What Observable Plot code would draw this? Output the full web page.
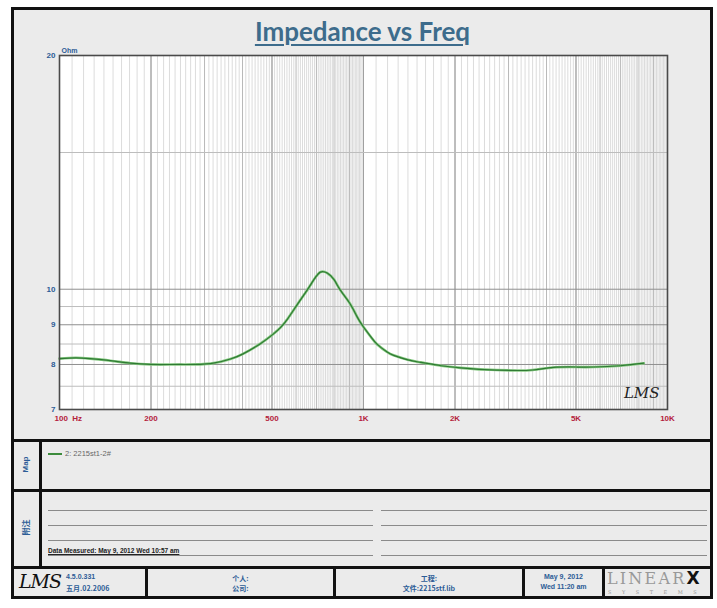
<!DOCTYPE html>
<html>
<head>
<meta charset="utf-8">
<script src="https://cdn.jsdelivr.net/npm/d3@7"></script>
<script src="https://cdn.jsdelivr.net/npm/@observablehq/plot@0.6"></script>
<style>
  html, body { margin: 0; padding: 0; background: #fff; }
  #page { position: relative; width: 717px; height: 608px; overflow: hidden; font-family: "Liberation Sans", Arial, sans-serif; }
  .box { position: absolute; box-sizing: border-box; }
  #outer { left: 11px; top: 7px; width: 702px; height: 592px; border: 3px solid #111; background: #ebebeb; }
  .hline { position: absolute; height: 3px; background: #111; }
  .vline { position: absolute; width: 3px; background: #111; }
  .thin { position: absolute; height: 1px; background: #8a8a8a; }
  #title { position: absolute; left: 0; width: 725px; top: 15px; text-align: center; font-family: Lato, "Open Sans", sans-serif; font-weight: bold; font-size: 26px; color: #3d6c8c; text-decoration: underline; text-underline-offset: 3px; text-decoration-thickness: 2px; }
  .small { position: absolute; font-size: 7px; white-space: nowrap; }
  .blue { color: #2b5c96; font-weight: bold; }
  .vert { position: absolute; transform: rotate(-90deg); transform-origin: center; font-size: 8px; font-weight: bold; color: #2b5c96; }
</style>
</head>
<body>
<div id="page">
  <div id="outer" class="box"></div>
  <div id="title">Impedance vs Freq</div>
  <div id="plotholder" style="position:absolute;left:0;top:0;"></div>

  <!-- section separators -->
  <div class="hline" style="left:11px;width:702px;top:439px;"></div>
  <div class="hline" style="left:11px;width:702px;top:489px;"></div>
  <div class="hline" style="left:11px;width:702px;top:566px;"></div>
  <div class="vline" style="left:39px;top:439px;height:129px;"></div>
  <div class="vline" style="left:145px;top:566px;height:32px;"></div>
  <div class="vline" style="left:333px;top:566px;height:32px;"></div>
  <div class="vline" style="left:522px;top:566px;height:32px;"></div>
  <div class="vline" style="left:602px;top:566px;height:32px;"></div>

  <div class="vert" style="left:14px;top:460px;width:22px;text-align:center;">Map</div>
  <div class="vert" style="left:14px;top:522px;width:22px;text-align:center;font-family:'Noto Sans CJK SC';">附注</div>

  <!-- legend -->
  <div style="position:absolute;left:48px;top:453px;width:14px;height:1.5px;background:#3c8c3c;"></div>
  <div class="small" id="legendText" style="left:65px;top:449px;color:#666;font-size:7.5px;"></div>

  <!-- note lines -->
  <div class="thin" style="left:48px;width:325px;top:510px;"></div>
  <div class="thin" style="left:381px;width:326px;top:510px;"></div>
  <div class="thin" style="left:48px;width:325px;top:525px;"></div>
  <div class="thin" style="left:381px;width:326px;top:525px;"></div>
  <div class="thin" style="left:48px;width:325px;top:540px;"></div>
  <div class="thin" style="left:381px;width:326px;top:540px;"></div>
  <div class="thin" style="left:48px;width:325px;top:555px;"></div>
  <div class="thin" style="left:381px;width:326px;top:555px;"></div>
  <div class="small" id="measured" style="left:48px;top:547px;font-weight:bold;text-decoration:underline;color:#222;font-size:6.5px;"></div>

  <!-- footer -->
  <div style="position:absolute;left:19px;top:570px;font-family:'DejaVu Serif',serif;font-style:italic;font-size:19px;color:#111;letter-spacing:-1px;">LMS</div>
  <div class="small blue" id="ver1" style="left:66px;top:573px;"></div>
  <div class="small blue" id="ver2" style="left:66px;top:583px;font-family:'Noto Sans CJK SC';"></div>
  <div class="small blue" style="left:148px;width:185px;top:573px;text-align:center;font-family:'Noto Sans CJK SC';">个人:</div>
  <div class="small blue" style="left:148px;width:185px;top:583px;text-align:center;font-family:'Noto Sans CJK SC';">公司:</div>
  <div class="small blue" style="left:336px;width:186px;top:573px;text-align:center;font-family:'Noto Sans CJK SC';">工程:</div>
  <div class="small blue" id="file" style="left:336px;width:186px;top:583px;text-align:center;font-family:'Noto Sans CJK SC';"></div>
  <div class="small blue" style="left:525px;width:77px;top:573px;text-align:center;">May 9, 2012</div>
  <div class="small blue" style="left:525px;width:77px;top:583px;text-align:center;">Wed 11:20 am</div>
  <div style="position:absolute;left:607px;top:568px;font-family:'DejaVu Serif',serif;font-size:16px;color:#999;letter-spacing:2.2px;white-space:nowrap;">LINEAR<span style="color:#111;font-family:'DejaVu Sans';font-weight:bold;font-size:17px;letter-spacing:0;">X</span></div>
  <div style="position:absolute;left:608px;top:589px;font-family:'DejaVu Serif',serif;font-size:5px;color:#999;letter-spacing:10.5px;white-space:nowrap;">SYSTEMS</div>
</div>

<script>
// ---- data ----
const freq = [100, 113, 126, 147, 171, 200, 250, 314, 365, 400, 458, 506, 534, 563, 606, 650, 686, 721, 760, 800, 838, 900, 952, 1000, 1058, 1110, 1196, 1256, 1400, 1542, 1800, 2086, 2500, 3038, 3600, 4210, 5000, 5700, 7000, 8360];
const impedance = [8.14, 8.16, 8.14, 8.09, 8.03, 8.00, 8.00, 8.02, 8.13, 8.25, 8.51, 8.76, 8.93, 9.16, 9.56, 9.95, 10.28, 10.52, 10.49, 10.29, 9.98, 9.60, 9.22, 8.94, 8.68, 8.49, 8.30, 8.22, 8.11, 8.05, 7.97, 7.92, 7.88, 7.86, 7.87, 7.93, 7.94, 7.94, 7.97, 8.03];

const xTicks = [100, 200, 500, 1000, 2000, 5000, 10000];
const xTickLabels = ["100  Hz", "200", "500", "1K", "2K", "5K", "10K"];
const yTicks = [7, 8, 9, 10, 20];
const yTickLabels = ["7", "8", "9", "10", "20"];
const yGridMinor = [7.5, 8.5, 9.5, 15];
const yUnit = "Ohm";
const seriesName = "2: 2215st1-2#";
const measuredText = "Data Measured: May 9, 2012  Wed 10:57 am";
const versionLines = ["4.5.0.331", "五月.02.2006"];
const fileText = "文件:2215stf.lib";

document.getElementById("legendText").textContent = seriesName;
document.getElementById("measured").textContent = measuredText;
document.getElementById("ver1").textContent = versionLines[0];
document.getElementById("ver2").textContent = versionLines[1];
document.getElementById("file").textContent = fileText;

const data = freq.map((f, i) => ({f, z: impedance[i]}));
const xTickRows = xTicks.map((f, i) => ({f, label: xTickLabels[i]}));

// grid positions: 10 Hz steps in the first decade, 100 Hz in the second
const gridMinor = [];
for (let f = 110; f < 1000; f += 10) if (f % 100 !== 0) gridMinor.push(f);
for (let f = 1100; f < 10000; f += 100) if (f % 1000 !== 0) gridMinor.push(f);
const gridMid = [];
for (let d of [100, 1000]) for (let k = 2; k <= 9; k++) gridMid.push(k * d);

const tickStyle = {fill: "#b4213c", fontWeight: "bold", fontSize: 8};

const chart = Plot.plot({
  width: 717,
  height: 440,
  marginLeft: 59,
  marginRight: 50,
  marginTop: 55,
  marginBottom: 31,
  style: {background: "none", overflow: "visible", fontFamily: "Liberation Sans, Arial, sans-serif"},
  x: {type: "log", domain: [100, 10000], axis: null},
  y: {type: "log", domain: [7, 20], axis: null},
  marks: [
    Plot.frame({fill: "white", stroke: null}),
    Plot.ruleX(gridMinor, {stroke: "#dcdcdc", strokeWidth: 1}),
    Plot.ruleX(gridMid, {stroke: "#b8b8b8", strokeWidth: 1}),
    Plot.ruleX(xTicks, {stroke: "#a0a0a0", strokeWidth: 1}),
    Plot.ruleY(yGridMinor, {stroke: "#bdbdbd", strokeWidth: 1}),
    Plot.ruleY(yTicks, {stroke: "#8f8f8f", strokeWidth: 1}),
    Plot.line(data, {x: "f", y: "z", stroke: "#86c981", strokeWidth: 2.6, curve: "natural"}),
    Plot.line(data, {x: "f", y: "z", stroke: "#2f7a33", strokeWidth: 1.2, curve: "natural"}),
    Plot.frame({stroke: "#4a4a4a", strokeWidth: 1.6}),
    Plot.text(yTicks, {x: 100, y: d => d, text: (d, i) => yTickLabels[i], dx: -4, textAnchor: "end", fill: "#2b5c96", fontWeight: "bold", fontSize: 8}),
    Plot.text(xTickRows.slice(0, 1), {x: "f", y: 7, text: "label", dy: 9, dx: -5, textAnchor: "start", ...tickStyle}),
    Plot.text(xTickRows.slice(1), {x: "f", y: 7, text: "label", dy: 9, textAnchor: "middle", ...tickStyle}),
    Plot.text([yUnit], {frameAnchor: "top-left", text: d => d, dx: 2, dy: -7, textAnchor: "start", fill: "#2b5c96", fontWeight: "bold", fontSize: 7}),
    Plot.text(["LMS"], {frameAnchor: "bottom-right", text: d => d, dx: -8, dy: -12, textAnchor: "end", fill: "#222", fontStyle: "italic", fontFamily: "DejaVu Serif, serif", fontSize: 15})
  ]
});
document.getElementById("plotholder").appendChild(chart);
</script>
</body>
</html>
